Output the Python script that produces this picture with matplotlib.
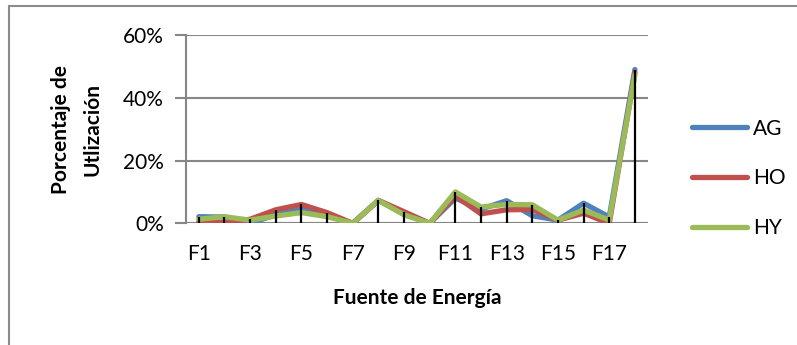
import matplotlib
matplotlib.use('Agg')
from matplotlib import pyplot as plt
from matplotlib.patches import Rectangle
from matplotlib.ticker import PercentFormatter
import numpy as np

plt.rcParams['font.family'] = ['Lato', 'DejaVu Sans']

#Categories and utilisation share (percent) for each group
fuentes = ["F%d" % i for i in range(1, 19)]
AG = [2.1, 2.0, 0.0, 2.7, 4.5, 2.7, 0.0, 7.3, 2.9, 0.0, 8.0, 4.5, 7.2, 2.4, 1.0, 6.4, 2.0, 49.0]
HO = [0.5, 0.2, 1.3, 4.3, 6.0, 3.4, 0.0, 7.3, 3.7, 0.0, 8.7, 3.0, 4.3, 4.4, 1.0, 3.2, 0.0, 48.0]
HY = [1.3, 2.1, 1.0, 2.3, 3.4, 2.1, 0.0, 7.3, 2.7, 0.0, 10.0, 5.2, 6.0, 5.9, 1.0, 4.2, 1.0, 47.3]

yticks = [0, 20, 40, 60]

fig = plt.figure(figsize=(7.97, 3.45), dpi=100)
ax = fig.add_axes([0.2334, 0.3528, 0.5793, 0.5458])

x = np.arange(len(fuentes))
grey = '#868686'
fs = 15

ax.plot(x, AG, color='#4F81BD', linewidth=3.8, solid_capstyle='round', solid_joinstyle='round', label='AG', zorder=3)
ax.plot(x, HO, color='#C0504D', linewidth=3.8, solid_capstyle='round', solid_joinstyle='round', label='HO', zorder=4)
ax.plot(x, HY, color='#9BBB59', linewidth=3.8, solid_capstyle='round', solid_joinstyle='round', label='HY', zorder=5)

#drop lines from the highest series down to the axis
tops = np.max(np.vstack([AG, HO, HY]), axis=0)
ax.vlines(x, 0, tops, colors='black', linewidth=1.6, zorder=6)

ax.set_xlim(-0.5, len(fuentes) - 0.5)
ax.set_ylim(0, 60)
ax.set_yticks(yticks)
ax.yaxis.set_major_formatter(PercentFormatter(decimals=0))
ax.set_xticks(x[::2])
ax.set_xticklabels(fuentes[::2])

ax.grid(axis='y', color=grey, linewidth=1.5, zorder=1)
for s in ['top', 'right', 'bottom']:
    ax.spines[s].set_visible(False)
ax.spines['left'].set_color(grey)
ax.spines['left'].set_linewidth(1.5)
ax.axhline(0, color=grey, linewidth=1.5, zorder=2)
ax.tick_params(axis='y', length=8, width=1.5, color=grey, labelsize=fs, pad=8)
ax.tick_params(axis='x', length=0, labelsize=fs, pad=15)

ax.set_xlabel("Fuente de Energía", fontsize=fs, fontweight='bold', labelpad=17)
ax.set_ylabel("Porcentaje de\nUtlización", fontsize=fs, fontweight='bold', labelpad=15, linespacing=1.7)

fig.legend(loc='center left', bbox_to_anchor=(0.845, 0.483), frameon=False,
           fontsize=fs, handlelength=2.65, labelspacing=1.42, handletextpad=0.25)

#outer chart border
fig.patches.append(Rectangle((8.5 / 797, -0.05), 1.2, 1 - 5.5 / 345 + 0.05,
                             transform=fig.transFigure, fill=False,
                             edgecolor='#8c8c8c', linewidth=1.5))

fig.savefig('out.png', dpi=100)
